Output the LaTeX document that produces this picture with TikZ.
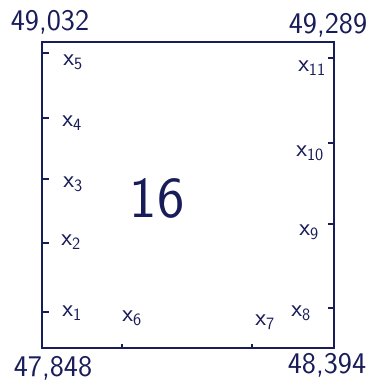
\documentclass[tikz,border=0pt]{standalone}
\usepackage{tikz}
\usepackage{xcolor}
\usetikzlibrary{calc}
\definecolor{ink}{RGB}{24,28,88}

\begin{document}
\begin{tikzpicture}[x=1pt,y=-1pt,
    edge/.style={ink,line width=2.8pt,line cap=round},
    tick/.style={ink,line width=1.6pt},
    val/.style={ink,font=\sffamily\fontsize{30}{32}\selectfont,inner sep=0pt},
    pt/.style={ink,font=\sffamily\fontsize{27}{29}\selectfont,inner sep=0pt},
    big/.style={ink,font=\sffamily\fontsize{58}{60}\selectfont,inner sep=0pt}]

    \useasboundingbox (0,0) rectangle (376,390);

    \coordinate (nw) at (42,42);
    \coordinate (ne) at (334,42);
    \coordinate (sw) at (42,348);
    \coordinate (se) at (334,348);
    \draw[edge] (nw) -- (ne) -- (se) -- (sw) -- cycle;

    \node[val] (vnw) at (50,22)  {49,032};
    \node[val] (vne) at (328,25) {49,289};
    \node[val] (vsw) at (53,368) {47,848};
    \node[val] (vse) at (327,365) {48,394};

    % left side
    \foreach \y in {53,118,179,243,312}
      \draw[tick] (42,\y) -- ++(7,0);
    \node[pt] (x5) at (73,62)  {$\mathsf{x}_{\mathsf{5}}$};
    \node[pt] (x4) at (72,123) {$\mathsf{x}_{\mathsf{4}}$};
    \node[pt] (x3) at (73,184) {$\mathsf{x}_{\mathsf{3}}$};
    \node[pt] (x2) at (71,242) {$\mathsf{x}_{\mathsf{2}}$};
    \node[pt] (x1) at (72,313) {$\mathsf{x}_{\mathsf{1}}$};

    % bottom side
    \foreach \x in {122,252}
      \draw[tick] (\x,348) -- ++(0,-4);
    \node[pt] (x6) at (132,318) {$\mathsf{x}_{\mathsf{6}}$};
    \node[pt] (x7) at (265,322) {$\mathsf{x}_{\mathsf{7}}$};

    % right side
    \foreach \y in {58,143,224,308}
      \draw[tick] (334,\y) -- ++(-6,0);
    \node[pt] (x8)  at (301,313) {$\mathsf{x}_{\mathsf{8}}$};
    \node[pt] (x9)  at (309,232) {$\mathsf{x}_{\mathsf{9}}$};
    \node[pt] (x10) at (310,153) {$\mathsf{x}_{\mathsf{10}}$};
    \node[pt] (x11) at (312,68)  {$\mathsf{x}_{\mathsf{11}}$};

    \node[big] (area) at (157,198) {16};
\end{tikzpicture}
\end{document}
